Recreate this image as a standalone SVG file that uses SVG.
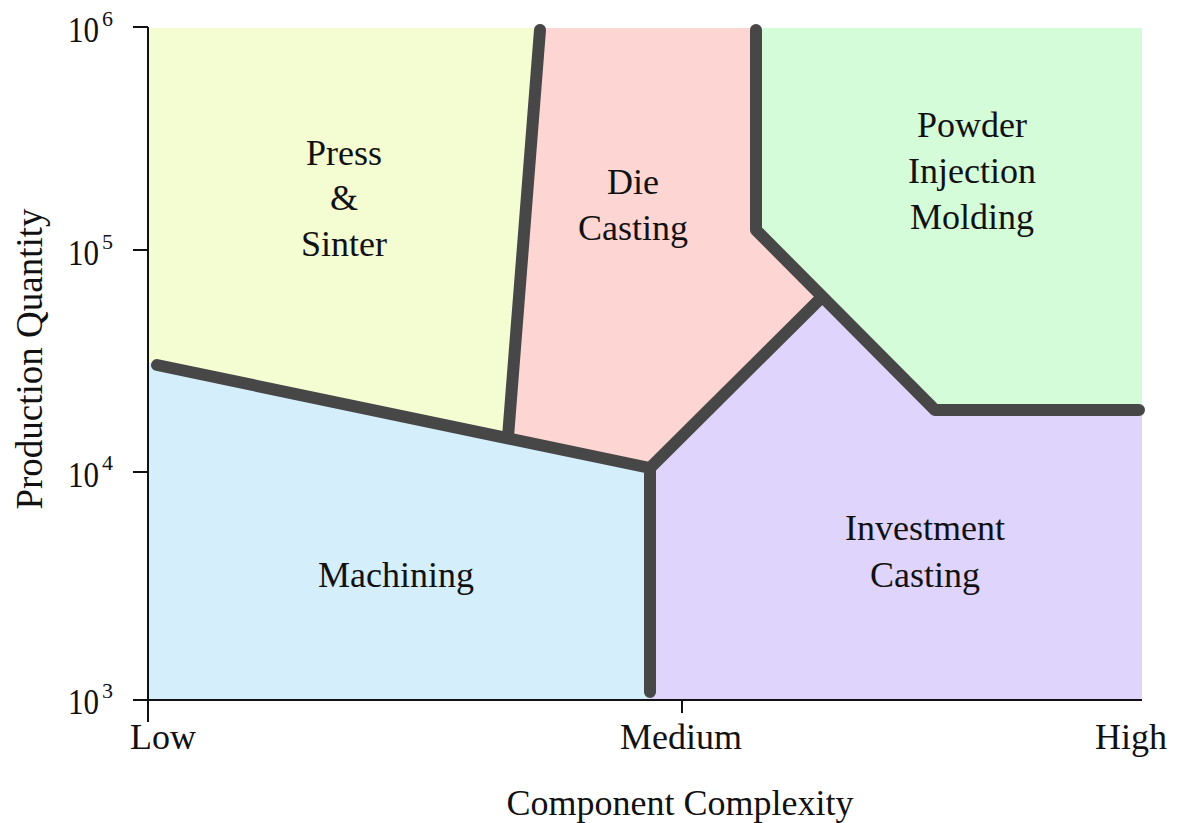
<svg xmlns="http://www.w3.org/2000/svg" width="1179" height="823" viewBox="0 0 1179 823">
<style>
text{font-family:"Liberation Serif","Times New Roman",serif;fill:#111;}
.lbl{font-size:36px;text-anchor:middle;}
.tk{font-size:36px;}
.sup{font-size:22px;}
.ax{stroke:#111;stroke-width:2;fill:none;}
.b{stroke:#474747;stroke-width:12;fill:none;stroke-linecap:round;stroke-linejoin:round;}
</style>
<rect width="1179" height="823" fill="#fff"/>
<g id="press-sinter">
<polygon points="149,28 540,28 508,437 149,363" fill="#f4fcd2"/>
<text class="lbl" x="344" y="165">Press</text>
<text class="lbl" x="344" y="210">&amp;</text>
<text class="lbl" x="344" y="256">Sinter</text>
</g>
<g id="machining">
<polygon points="149,363 650,468 650,700 149,700" fill="#d4eefb"/>
<text class="lbl" x="396" y="587">Machining</text>
</g>
<g id="die-casting">
<polygon points="540,28 756,28 756,230 822,297 650,468 508,437" fill="#fdd6d3"/>
<text class="lbl" x="633" y="194">Die</text>
<text class="lbl" x="633" y="240">Casting</text>
</g>
<g id="pim">
<polygon points="756,28 1142,28 1142,410 935,410 756,230" fill="#d4fcd8"/>
<text class="lbl" x="972" y="137">Powder</text>
<text class="lbl" x="972" y="183">Injection</text>
<text class="lbl" x="972" y="229">Molding</text>
</g>
<g id="investment-casting">
<polygon points="822,297 935,410 1142,410 1142,700 650,700 650,468" fill="#dfd4fc"/>
<text class="lbl" x="925" y="540">Investment</text>
<text class="lbl" x="925" y="587">Casting</text>
</g>
<g id="axes">
<path class="ax" d="M148,27 V722 M133,27 H148 M133,250 H148 M133,472 H148 M133,700 H1142 M682,700 V713"/>
<text class="tk" x="68" y="42" textLength="31" lengthAdjust="spacingAndGlyphs">10</text><text class="sup" x="102" y="26">6</text>
<text class="tk" x="68" y="265" textLength="31" lengthAdjust="spacingAndGlyphs">10</text><text class="sup" x="102" y="249">5</text>
<text class="tk" x="68" y="487" textLength="31" lengthAdjust="spacingAndGlyphs">10</text><text class="sup" x="102" y="470">4</text>
<text class="tk" x="68" y="714" textLength="31" lengthAdjust="spacingAndGlyphs">10</text><text class="sup" x="102" y="698">3</text>
<text class="tk" x="130" y="749">Low</text>
<text class="lbl" x="681" y="749">Medium</text>
<text class="tk" x="1095" y="749">High</text>
<text class="lbl" x="680" y="815">Component Complexity</text>
<text class="lbl" style="font-size:37px" transform="translate(42,359) rotate(-90)">Production Quantity</text>
</g>
<g id="connectors">
<path class="b" d="M157,365 L650,468 L650,692"/>
<path class="b" d="M540,30 L508,437"/>
<path class="b" d="M650,468 L822,297"/>
<path class="b" d="M756,30 L756,230 L935,410 L1139,410"/>
</g>
</svg>
